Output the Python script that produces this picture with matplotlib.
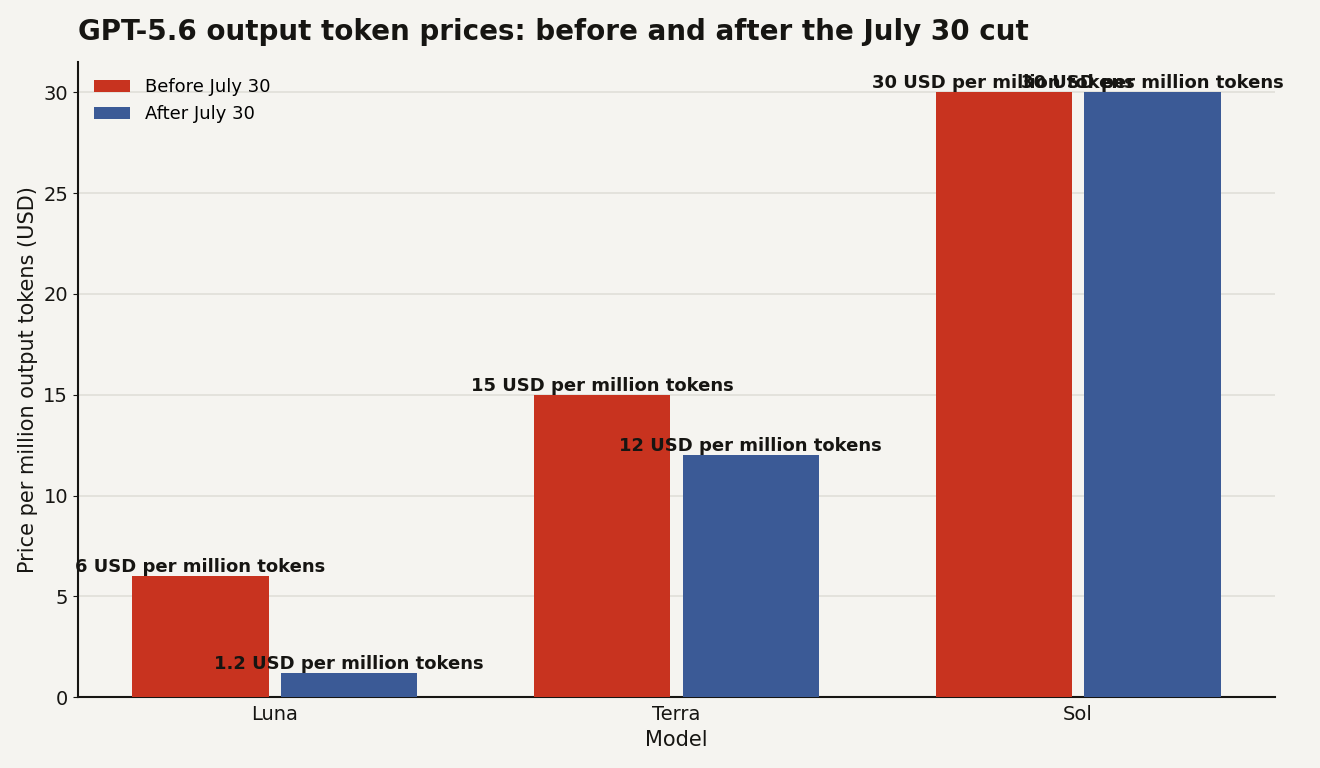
import numpy as np
from matplotlib import pyplot as plt

plt.rcParams["font.family"] = ["DejaVu Sans"]

models = ["Luna", "Terra", "Sol"]
before = [6, 15, 30]
after = [1.2, 12, 30]
series_labels = ["Before July 30", "After July 30"]

bg = "#F5F4F0"
red = "#C8331F"
blue = "#3B5A96"
ink = "#161512"

fig, ax = plt.subplots(figsize=(13.2, 7.68), dpi=100)
fig.patch.set_facecolor(bg)
ax.set_facecolor(bg)
fig.subplots_adjust(left=0.059, right=0.966, top=0.919, bottom=0.0924)

x = np.arange(len(models))
width = 0.34
offset = 0.185

b1 = ax.bar(x - offset, before, width, color=red, label=series_labels[0], zorder=3)
b2 = ax.bar(x + offset, after, width, color=blue, label=series_labels[1], zorder=3)

# labels sit right on top of the bars (the two Sol ones collide, as in the original)
for bars, vals in [(b1, before), (b2, after)]:
    ax.bar_label(bars, labels=[f"{v:g} USD per million tokens" for v in vals],
                 padding=0, fontsize=13, fontweight="bold", color=ink)

ax.set_xticks(x)
ax.set_xticklabels(models)
ax.tick_params(axis="both", labelsize=14, colors=ink)
ax.tick_params(axis="x", length=0, pad=6)
ax.set_ylim(0, 31.5)
ax.set_yticks([0, 5, 10, 15, 20, 25, 30])

ax.grid(axis="y", color="#E0DFD8", linewidth=1.2, zorder=0)
ax.set_axisbelow(True)
for s in ["top", "right"]:
    ax.spines[s].set_visible(False)
for s in ["left", "bottom"]:
    ax.spines[s].set_linewidth(1.5)
    ax.spines[s].set_color(ink)

ax.set_xlabel("Model", fontsize=15, color=ink, labelpad=4)
ax.set_ylabel("Price per million output tokens (USD)", fontsize=15, color=ink)
ax.set_title("GPT-5.6 output token prices: before and after the July 30 cut",
             loc="left", fontsize=20, fontweight="bold", color=ink, pad=16)

ax.legend(loc="upper left", frameon=False, fontsize=13)

plt.savefig("out.png", facecolor=bg)
